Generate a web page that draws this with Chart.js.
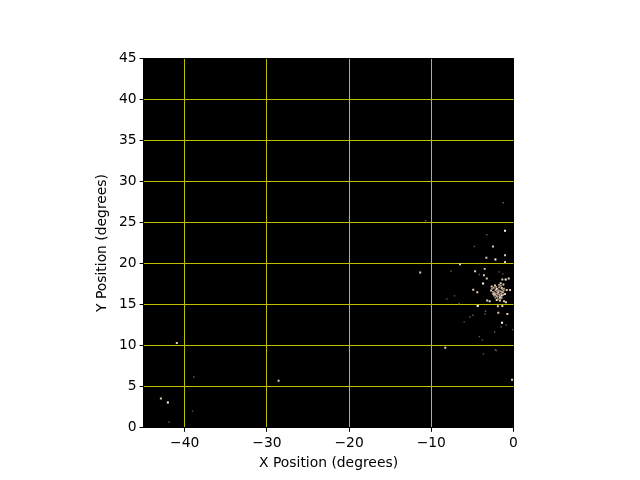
<!DOCTYPE html>
<html>
<head>
<meta charset="utf-8">
<script src="https://cdn.jsdelivr.net/npm/chart.js@4"></script>
<style>
html, body { margin: 0; padding: 0; background: #fff; }
canvas { display: block; }
</style>
</head>
<body>
<canvas id="myChart" width="640" height="480"></canvas>
<script>
var xTicks = [-40, -30, -20, -10, 0];
var yTicks = [0, 5, 10, 15, 20, 25, 30, 35, 40, 45];

// values, grouped by how bright the star looks
var brightX = [-1.03, -2.2, -0.95, -42.05, -3.7, -1.4, -2.04, -1.64, -1.44, -4.35, -2.25];
var brightY = [24.0, 20.5, 18.05, 3.09, 17.56, 12.8, 16.91, 15.89, 16.1, 14.84, 16.22];

var tanX = [-2.5, -3.3, -1.03, -1.03, -6.5, -4.67, -3.5, -3.6, -3.25, -1.36, -0.58, -4.9, -4.4, -3.2, -2.9, -1.36, -1.9, -0.75, -1.85, -40.96, -28.58, -42.9, -8.3, -0.18, -11.35, -2.65, -2.25, -1.56, -1.23, -1.44, -0.83, -0.42, -2.73, -2.45, -1.84, -1.31, -1.03, -2.04, -1.64, -1.15, -0.91];
var tanY = [22.07, 20.7, 21.0, 20.2, 19.9, 19.06, 19.35, 18.57, 18.17, 18.05, 18.17, 16.8, 16.5, 15.5, 15.4, 14.84, 14.8, 13.86, 14.0, 10.33, 5.73, 3.57, 9.75, 5.85, 18.9, 17.2, 17.32, 17.6, 17.44, 17.03, 16.79, 16.79, 16.71, 16.3, 16.5, 16.5, 16.3, 15.57, 15.49, 15.4, 15.28];

// the soft haze of stars packed into the cluster
var hazeX = [-2.6, -2.4, -2.2, -2.1, -1.95, -1.75, -1.55, -1.35, -1.15, -2.5, -2.3, -2.0, -1.8, -1.6, -1.4, -1.2, -2.35, -2.15, -1.9, -1.7, -1.5, -1.25, -2.2, -1.95, -1.7, -1.45, -1.9, -1.6, -1.75, -2.05];
var hazeY = [16.95, 17.05, 16.75, 17.15, 16.85, 17.1, 17.3, 16.85, 16.95, 16.55, 16.45, 16.6, 16.7, 16.65, 16.55, 16.7, 16.1, 16.3, 16.3, 16.25, 16.35, 16.2, 15.85, 15.95, 16.05, 15.8, 15.65, 15.75, 17.4, 16.05];

var dimX = [-7.6, -4.15, -1.76, -1.3, -1.24, -3.25, -4.76, -38.9, -39.05, -41.9, -10.7, -2.2, -6.6, -3.4, -3.46, -4.95, -5.3, -6.0, -0.87, -1.5, -2.3, -0.1, -4.15, -3.8, -2.1, -3.66, -7.18, -8.1];
var dimY = [19.1, 18.66, 18.98, 18.74, 27.4, 23.5, 22.07, 6.18, 2.03, 0.7, 25.2, 9.5, 15.1, 14.2, 13.86, 13.7, 13.5, 12.9, 12.5, 12.3, 11.67, 11.95, 11.1, 10.7, 9.4, 9.0, 16.06, 15.7];

var blueX = [-2.33];
var blueY = [16.22];

function toPoints(xs, ys) {
  return xs.map(function(x, i) { return { x: x, y: ys[i] }; });
}

function edgeColor(lo, hi) {
  return function(c) {
    if (c.tick && (c.tick.value == lo || c.tick.value == hi)) return '#000000';
    return '#bfbf00';
  };
}

var blackBack = {
  id: 'blackBack',
  beforeDraw: function(chart) {
    var a = chart.chartArea;
    chart.ctx.save();
    chart.ctx.fillStyle = '#000000';
    chart.ctx.fillRect(a.left, a.top, a.right - a.left, a.bottom - a.top);
    chart.ctx.restore();
  }
};

var fontFace = { family: '"DejaVu Sans"', size: 13.89 };

var ctx = document.getElementById('myChart').getContext('2d');
var myChart = new Chart(ctx, {
  type: 'scatter',
  data: {
    datasets: [
      { data: toPoints(dimX, dimY), backgroundColor: '#6e5c4c', pointStyle: 'rect', pointRadius: 1, borderWidth: 0 },
      { data: toPoints(hazeX, hazeY), backgroundColor: '#b8a28c', pointStyle: 'rect', pointRadius: 1.3, borderWidth: 0 },
      { data: toPoints(tanX, tanY), backgroundColor: '#e6cdb0', pointStyle: 'rect', pointRadius: 1.4, borderWidth: 0 },
      { data: toPoints(blueX, blueY), backgroundColor: '#8fb4dc', pointStyle: 'rect', pointRadius: 1.4, borderWidth: 0 },
      { data: toPoints(brightX, brightY), backgroundColor: '#ffffff', pointStyle: 'rect', pointRadius: 1.42, borderWidth: 0 }
    ]
  },
  options: {
    responsive: false,
    animation: false,
    layout: { padding: { left: 0, right: 126.5, top: 58.2, bottom: 0 } },
    plugins: { legend: { display: false }, tooltip: { enabled: false } },
    scales: {
      x: {
        type: 'linear',
        min: -45,
        max: 0,
        afterBuildTicks: function(s) { s.ticks = xTicks.map(function(v) { return { value: v }; }); },
        afterFit: function(s) { s.height = 52.2; },
        border: { color: '#000000', width: 1 },
        grid: { color: edgeColor(-45, 0), lineWidth: 1, tickColor: '#000000', tickLength: 4 },
        ticks: {
          color: '#000000', font: fontFace, padding: 3, maxRotation: 0, autoSkip: false,
          callback: function(v) { return String(v).replace('-', '\u2212'); }
        },
        title: { display: true, text: 'X Position (degrees)', color: '#000000', font: fontFace, padding: { top: 0, bottom: 8.5 } }
      },
      y: {
        type: 'linear',
        min: 0,
        max: 45,
        afterBuildTicks: function(s) { s.ticks = yTicks.map(function(v) { return { value: v }; }); },
        afterFit: function(s) { s.width = 143.6; },
        border: { color: '#000000', width: 1 },
        grid: { color: edgeColor(0, 45), lineWidth: 1, tickColor: '#000000', tickLength: 4 },
        ticks: { color: '#000000', font: fontFace, padding: 3, autoSkip: false },
        title: { display: true, text: 'Y Position (degrees)', color: '#000000', font: fontFace, padding: { top: 94, bottom: 0 } }
      }
    }
  },
  plugins: [blackBack]
});
</script>
</body>
</html>
